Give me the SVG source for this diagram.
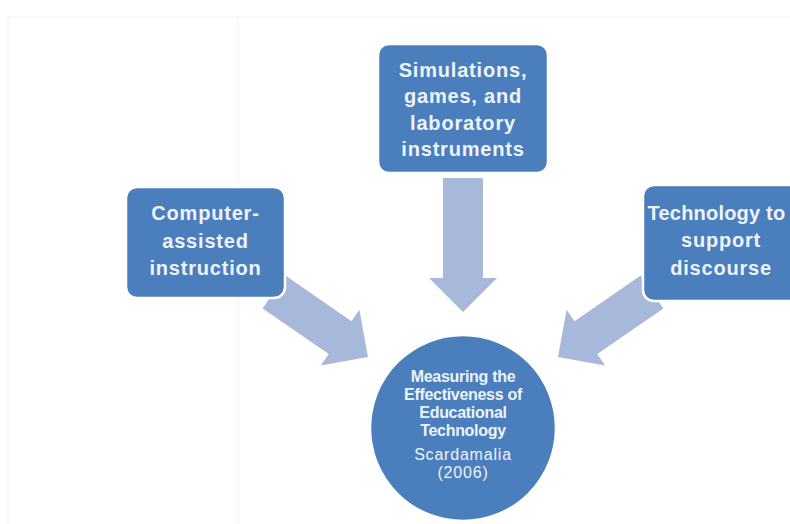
<svg xmlns="http://www.w3.org/2000/svg" width="790" height="524" viewBox="0 0 790 524">
<style>
.box{fill:#4a7ebd;stroke:#ffffff;stroke-width:2.5}
.arrow{fill:#a8b8da}
.guide{stroke:#f1f1f1;stroke-width:1;fill:none}
.bt{font-family:"Liberation Sans",Arial,sans-serif;font-weight:bold;font-size:20px;fill:#eef3fa;text-anchor:middle;letter-spacing:0.8px}
.ct{font-family:"Liberation Sans",Arial,sans-serif;font-weight:bold;font-size:16px;fill:#eef3fa;text-anchor:middle;letter-spacing:-0.3px}
.cr{font-family:"Liberation Sans",Arial,sans-serif;font-size:16px;fill:#eef3fa;text-anchor:middle;letter-spacing:0.8px}
</style>
<rect x="0" y="0" width="790" height="524" fill="#ffffff"/>
<g id="guides">
<line class="guide" x1="8" y1="17" x2="790" y2="17"/>
<line class="guide" x1="8" y1="17" x2="8" y2="524"/>
<line class="guide" x1="238" y1="17" x2="238" y2="524"/>
</g>
<g id="connectors">
<polygon class="arrow" points="443,178 483,178 483,278 497,278 463,312 429,278 443,278"/>
<polygon class="arrow" points="262.6,308.4 285.4,275.6 351.5,321.3 359.4,309.7 368,357 320.8,365.6 328.7,354.1"/>
<polygon class="arrow" points="663.4,308.4 640.6,275.6 574.5,321.3 566.6,309.7 558,357 605.2,365.6 597.3,354.1"/>
</g>
<g id="node-simulations">
<rect class="box" x="378" y="44" width="170" height="129" rx="11"/>
<text class="bt" x="463" y="77">Simulations,</text>
<text class="bt" x="463" y="103">games, and</text>
<text class="bt" x="463" y="130">laboratory</text>
<text class="bt" x="463" y="156">instruments</text>
</g>
<g id="node-cai">
<rect class="box" x="126" y="187" width="159" height="111" rx="11"/>
<text class="bt" x="205.5" y="220">Computer-</text>
<text class="bt" x="205.5" y="248">assisted</text>
<text class="bt" x="205.5" y="275">instruction</text>
</g>
<g id="node-discourse">
<rect class="box" x="643" y="185" width="160" height="116" rx="11"/>
<text class="bt" x="716.5" y="220" style="letter-spacing:0.2px">Technology to</text>
<text class="bt" x="721" y="247">support</text>
<text class="bt" x="721" y="275">discourse</text>
</g>
<g id="node-center">
<circle class="box" cx="463" cy="428" r="93"/>
<text class="ct" x="463" y="382">Measuring the</text>
<text class="ct" x="463" y="400">Effectiveness of</text>
<text class="ct" x="463" y="418">Educational</text>
<text class="ct" x="463" y="436">Technology</text>
<text class="cr" x="463" y="460">Scardamalia</text>
<text class="cr" x="463" y="478">(2006)</text>
</g>
</svg>
